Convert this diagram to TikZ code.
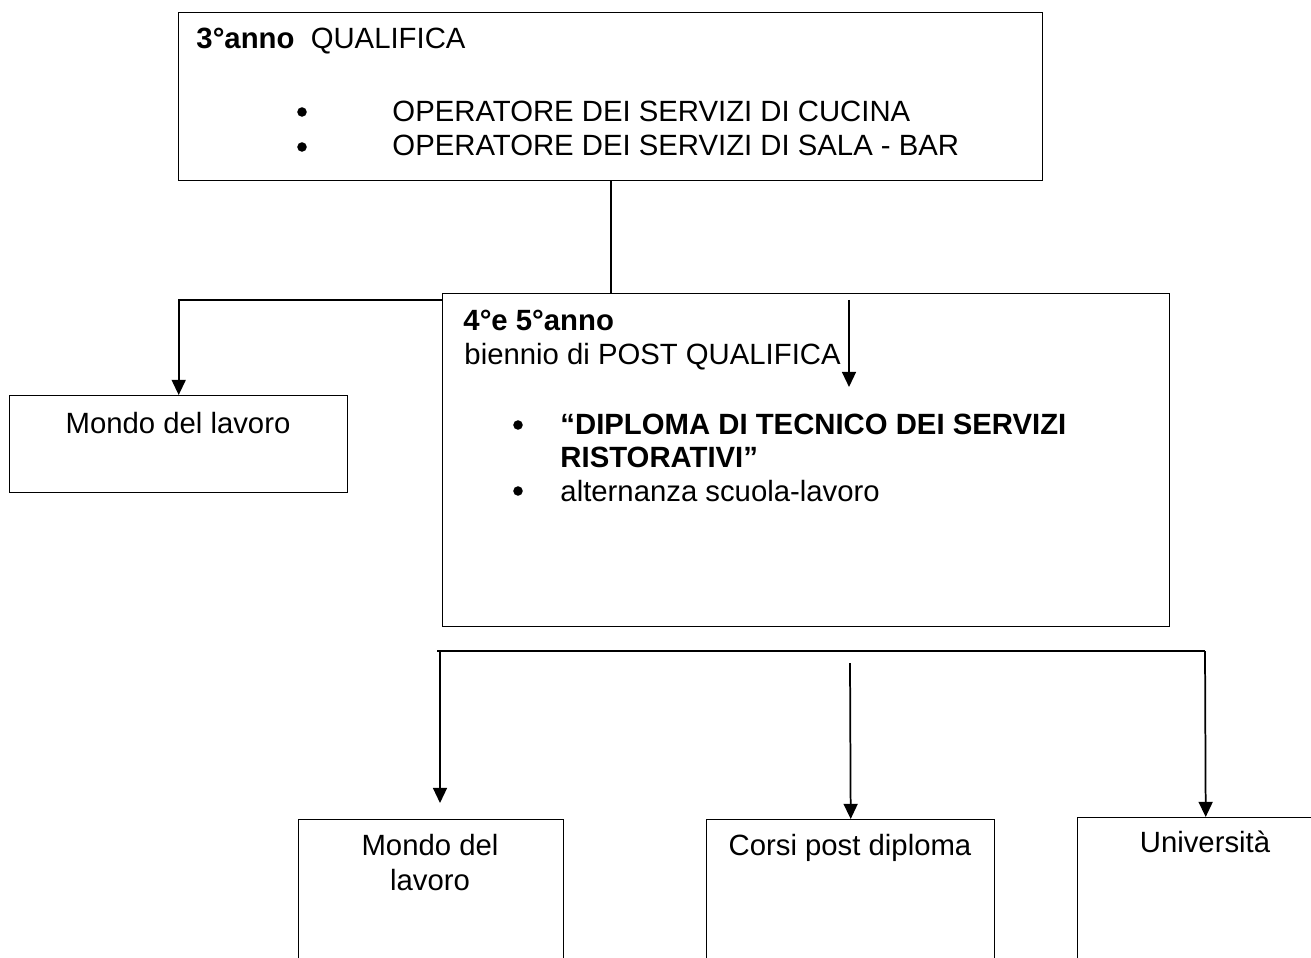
\documentclass[tikz,border=0pt]{standalone}
\usepackage{fontspec}
\setmainfont{Liberation Sans}
\usetikzlibrary{arrows.meta}

\tikzset{
  box/.style={draw, line width=0.6pt, anchor=north west, inner sep=0pt},
  txt/.style={anchor=base west, inner sep=0pt},
  ctxt/.style={anchor=base, inner sep=0pt},
  dot/.style={circle, fill, inner sep=0pt, minimum size=4.1pt},
  line/.style={line width=0.75pt},
  arr/.style={line width=0.75pt, -{Triangle[length=6.5pt,width=6pt]}}
}

\begin{document}
\begin{tikzpicture}[x=0.43pt, y=-0.43pt, font=\fontsize{12.6}{15}\selectfont]
    \useasboundingbox (0,0) rectangle (1311,958);
    \clip (0,0) rectangle (1311,958);

    % 3rd year box
    \node[box, minimum width=864*0.43pt, minimum height=168*0.43pt] (qual) at (178,12) {};
    \node[txt] (qualt) at (196,49) {\textbf{3°anno}\ \ QUALIFICA};
    \node[dot] (qb1) at (302,112) {};
    \node[txt] (qi1) at (392,122) {OPERATORE DEI SERVIZI DI CUCINA};
    \node[dot] (qb2) at (302,147) {};
    \node[txt] (qi2) at (392,156) {OPERATORE DEI SERVIZI DI SALA - BAR};

    % 4th and 5th year box
    \node[box, minimum width=727*0.43pt, minimum height=333*0.43pt] (post) at (442,293) {};
    \node[txt] (postt) at (463,331) {\textbf{4°e 5°anno}};
    \node[txt] (posts) at (464,365) {biennio di POST QUALIFICA};
    \node[dot] (pb1) at (518,425) {};
    \node[txt] (pi1) at (560,435) {\textbf{“DIPLOMA DI TECNICO DEI SERVIZI}};
    \node[txt] (pi2) at (560,467) {\textbf{RISTORATIVI”}};
    \node[dot] (pb2) at (518,491) {};
    \node[txt] (pi3) at (560,501) {alternanza scuola-lavoro};

    % outcomes
    \node[box, minimum width=338*0.43pt, minimum height=97*0.43pt] (lav1) at (9,395) {};
    \node[ctxt] (lav1t) at (178,434) {Mondo del lavoro};
    \node[box, minimum width=265*0.43pt, minimum height=200*0.43pt] (lav2) at (298,819) {};
    \node[ctxt] (lav2a) at (430,855) {Mondo del};
    \node[ctxt] (lav2b) at (430,890) {lavoro};
    \node[box, minimum width=288*0.43pt, minimum height=200*0.43pt] (corsi) at (706,819) {};
    \node[ctxt] (corsit) at (850,855) {Corsi post diploma};
    \node[box, minimum width=256*0.43pt, minimum height=200*0.43pt] (univ) at (1077,817) {};
    \node[ctxt] (univt) at (1205,852) {Università};

    % connectors
    \coordinate (jl) at (442,300);
    \coordinate (ia) at (849,300);
    \coordinate (ib) at (849,387);
    \coordinate (bl) at (437,651);
    \coordinate (br) at (1205,651);
    \coordinate (la) at (440,651);
    \coordinate (lb) at (440,803);
    \coordinate (ma) at (850,663);
    \draw[line] (qual.south) -- (qual.south |- post.north);
    \draw[arr] (jl) -| (lav1.north);
    \draw[arr] (ia) -- (ib);
    \draw[line] (bl) -- (br);
    \draw[arr] (la) -- (lb);
    \draw[arr] (ma) -- (corsi.north);
    \draw[arr] (br) -- (univ.north);
\end{tikzpicture}
\end{document}
